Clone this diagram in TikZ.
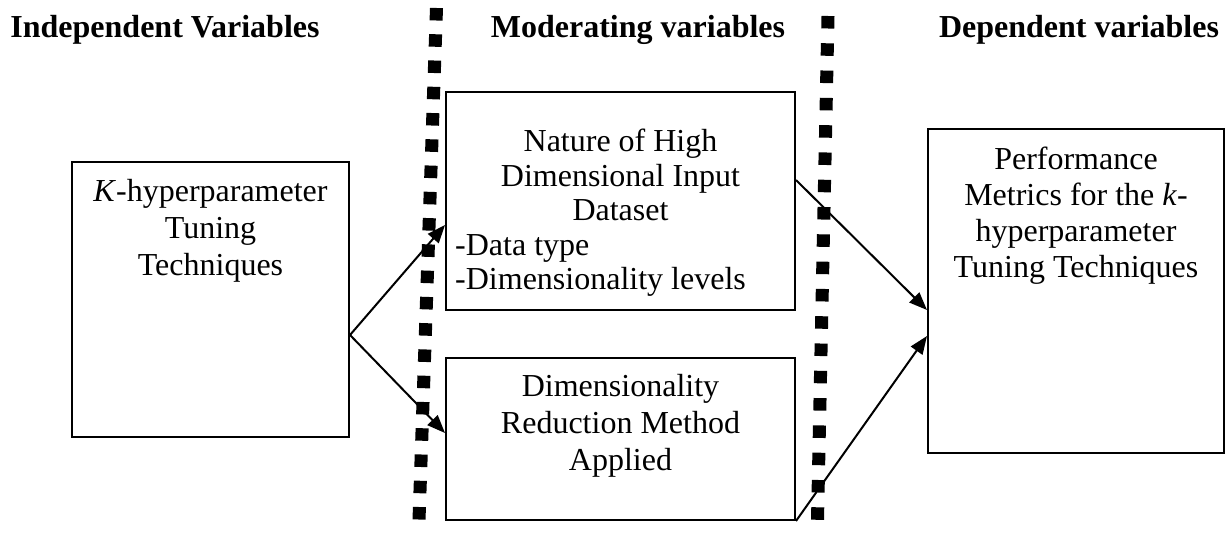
\documentclass[tikz,border=0pt]{standalone}
\usepackage{fontspec}
\setmainfont{Liberation Serif}
\usetikzlibrary{arrows.meta}
\begin{document}
\begin{tikzpicture}[x=1pt,y=-1pt,
  box/.style={draw,line width=2pt,rectangle,inner sep=0pt},
  txt/.style={anchor=base,inner sep=0pt,font=\fontsize{32}{37}\selectfont},
  head/.style={anchor=base,inner sep=0pt,font=\fontsize{32}{37}\selectfont\bfseries},
  conn/.style={line width=2pt,-{Triangle[length=18pt,width=14pt]}},
  divider/.style={line width=13pt}]
\useasboundingbox (0,0) rectangle (1232,534);

% headers
\node[head] (h1) at (165,38) {Independent Variables};
\node[head] (h2) at (638,38) {Moderating variables};
\node[head] (h3) at (1079,38) {Dependent variables};

% dotted dividers
\coordinate (d1a) at (436.5,8);
\coordinate (d1b) at (419,520);
\coordinate (d2a) at (828,16);
\coordinate (d2b) at (817.5,520);
\draw[divider,dash pattern=on 12.5pt off 13.78pt] (d1a) -- (d1b);
\draw[divider,dash pattern=on 12.5pt off 14.8pt] (d2a) -- (d2b);

% boxes
\node[box,minimum width=349pt,minimum height=218pt] (M1) at (620.5,201) {};
\node[box,minimum width=277pt,minimum height=275pt] (L) at (210.5,299.5) {};
\node[box,minimum width=349pt,minimum height=162pt] (M2) at (620.5,439) {};
\node[box,minimum width=296pt,minimum height=324pt] (R) at (1076,291) {};

% texts
\node[txt] (tL1) at (210.5,202) {\textit{K}-hyperparameter};
\node[txt] (tL2) at (210.5,239) {Tuning};
\node[txt] (tL3) at (210.5,276) {Techniques};

\node[txt] (tM1) at (620.5,152) {Nature of High};
\node[txt] (tM2) at (620.5,186.5) {Dimensional Input};
\node[txt] (tM3) at (620.5,221) {Dataset};
\node[txt,anchor=base west] (tM4) at (455,255.5) {-Data type};
\node[txt,anchor=base west] (tM5) at (455,290) {-Dimensionality levels};

\node[txt] (tN1) at (620.5,397) {Dimensionality};
\node[txt] (tN2) at (620.5,434) {Reduction Method};
\node[txt] (tN3) at (620.5,471) {Applied};

\node[txt] (tR1) at (1076,170) {Performance};
\node[txt] (tR2) at (1076,206) {Metrics for the \textit{k}-};
\node[txt] (tR3) at (1076,242) {hyperparameter};
\node[txt] (tR4) at (1076,278) {Tuning Techniques};

% connector anchor points
\coordinate (Lout) at ([yshift=-35.5pt]L.east);
\coordinate (M1in) at ([yshift=-24pt]M1.west);
\coordinate (M2in) at ([yshift=6pt]M2.west);
\coordinate (M1out) at ([yshift=21pt]M1.east);
\coordinate (M2out) at (M2.south east);
\coordinate (Rin1) at ([yshift=-19pt]R.west);
\coordinate (Rin2) at ([yshift=-45pt]R.west);

\draw[conn] (Lout) -- (M1in);
\draw[conn] (Lout) -- (M2in);
\draw[conn] (M1out) -- (Rin1);
\draw[conn] (M2out) -- (Rin2);
\end{tikzpicture}
\end{document}
